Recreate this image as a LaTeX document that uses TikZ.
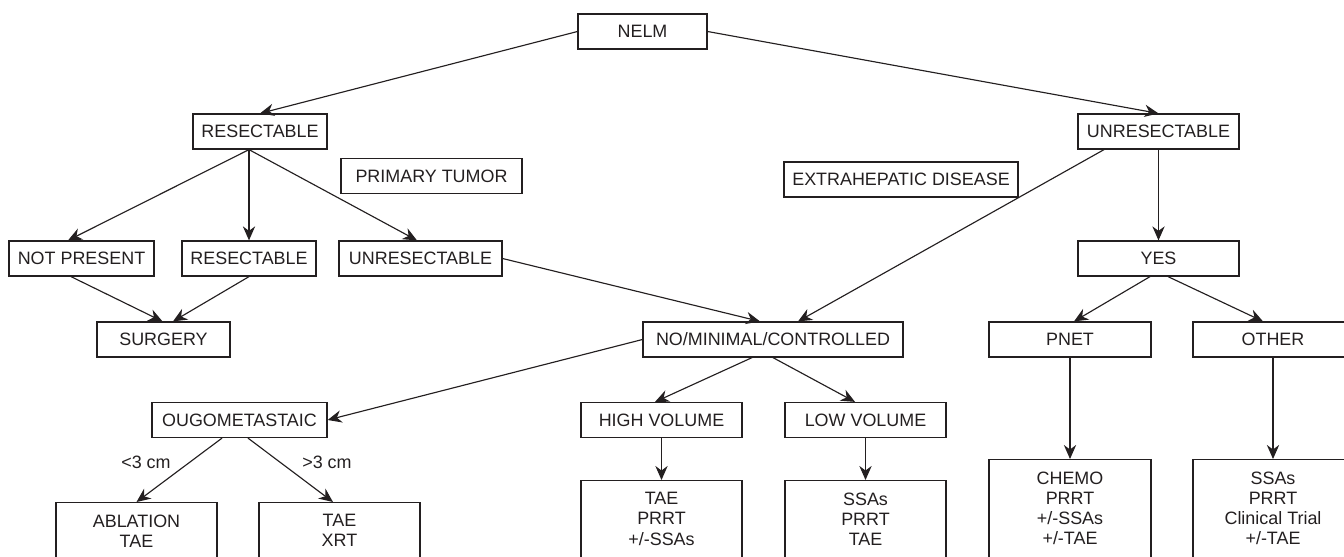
\documentclass[tikz,border=0pt]{standalone}
\usepackage{fontspec}
\setmainfont{Liberation Sans}
\usetikzlibrary{arrows.meta,calc}
\definecolor{ink}{HTML}{231F20}

\begin{document}
\begin{tikzpicture}[
    x=0.02cm, y=-0.02cm,
    every node/.style={font=\fontsize{10.2}{11.4}\selectfont, text=ink},
    box/.style={rectangle, draw=ink, line width=0.7pt, minimum height=0.7cm, inner sep=0pt, align=center},
    lowbox/.style={box, anchor=north, inner ysep=0.24cm, text depth=3cm, minimum width=3.22cm},
    arrow/.style={-{Stealth[length=8pt,width=7pt]}, draw=ink, line width=0.65pt}
]
    \useasboundingbox (0,0) rectangle (1344,556);
    \clip (0,0) rectangle (1344,556);

    % top
    \node[box, minimum width=2.58cm] (nelm) at (642.5, 31.5) {NELM};
    \node[box, minimum width=2.68cm] (res) at (260, 131.5) {RESECTABLE};
    \node[box, minimum width=3.22cm] (unres) at (1158.5, 131.5) {UNRESECTABLE};

    % headings
    \node[box, minimum width=3.62cm] (tumor) at (431.5, 176) {PRIMARY TUMOR};
    \node[box, minimum width=4.68cm] (extra) at (901, 179.5) {EXTRAHEPATIC DISEASE};

    % primary tumor level
    \node[box, minimum width=2.9cm] (notpres) at (81.5, 258.5) {NOT PRESENT};
    \node[box, minimum width=2.68cm] (resmid) at (249, 258.5) {RESECTABLE};
    \node[box, minimum width=3.26cm] (unresmid) at (420.5, 258.5) {UNRESECTABLE};
    \node[box, minimum width=3.22cm] (yes) at (1158.5, 258.5) {YES};

    % extrahepatic level
    \node[box, minimum width=2.66cm] (surgery) at (163.5, 339.5) {SURGERY};
    \node[box, minimum width=5.2cm] (nominal) at (773, 339.5) {NO/MINIMAL/CONTROLLED};
    \node[box, minimum width=3.24cm] (pnet) at (1070, 339.5) {PNET};
    \node[box, minimum width=3.2cm] (other) at (1273, 339.5) {OTHER};

    % disease burden
    \node[box, minimum width=3.5cm] (ougo) at (239.5, 420) {OUGOMETASTAIC};
    \node[box, minimum width=3.22cm] (high) at (661.5, 420) {HIGH VOLUME};
    \node[box, minimum width=3.22cm] (low) at (865.5, 420) {LOW VOLUME};

    % treatment
    \node[lowbox] (ablation) at (136.5, 502) {ABLATION\\TAE};
    \node[lowbox] (xrt) at (339.5, 502) {TAE\\XRT};
    \node[lowbox] (taeprrt) at (661.5, 480) {TAE\\PRRT\\+/-SSAs};
    \node[lowbox] (ssasprrt) at (865.5, 480) {SSAs\\PRRT\\TAE};
    \node[lowbox, minimum width=3.24cm] (chemo) at (1070, 459) {CHEMO\\PRRT\\+/-SSAs\\+/-TAE};
    \node[lowbox, minimum width=3.2cm] (trial) at (1273, 459) {SSAs\\PRRT\\Clinical Trial\\+/-TAE};

    % size labels
    \node (small) at (146, 462) {<3 cm};
    \node (large) at (327, 462) {>3 cm};

    \coordinate (fan) at (resmid.north |- res.south);

    % arrows
    \draw[arrow] (nelm.west) -- (res.north);
    \draw[arrow] (nelm.east) -- (unres.north);
    \draw[arrow] (fan) -- ([xshift=-0.27cm]notpres.north);
    \draw[arrow] (fan) -- (resmid.north);
    \draw[arrow] (fan) -- ([xshift=-0.07cm]unresmid.north);
    \draw[arrow] ([xshift=-0.21cm]notpres.south) -- ([xshift=-0.02cm]surgery.north);
    \draw[arrow] (resmid.south) -- ([xshift=0.19cm]surgery.north);
    \draw[arrow] (unresmid.east) -- ([xshift=-0.26cm]nominal.north);
    \draw[arrow] ([xshift=-1.09cm]unres.south) -- ([xshift=0.5cm]nominal.north);
    \draw[arrow] (unres.south) -- (yes.north);
    \draw[arrow] ([xshift=-0.17cm]yes.south) -- ([xshift=0.08cm]pnet.north);
    \draw[arrow] ([xshift=0.19cm]yes.south) -- ([xshift=-0.2cm]other.north);
    \draw[arrow] (nominal.west) -- (ougo.east);
    \draw[arrow] ([xshift=-0.42cm]nominal.south) -- ([xshift=-0.13cm]high.north);
    \draw[arrow] (nominal.south) -- ([xshift=-0.21cm]low.north);
    \draw[arrow] ([xshift=-0.35cm]ougo.south) -- (ablation.north);
    \draw[arrow] ([xshift=0.17cm]ougo.south) -- ([xshift=-0.13cm]xrt.north);
    \draw[arrow] (high.south) -- (taeprrt.north);
    \draw[arrow] (low.south) -- (ssasprrt.north);
    \draw[arrow] (pnet.south) -- (chemo.north);
    \draw[arrow] (other.south) -- (trial.north);
\end{tikzpicture}
\end{document}
